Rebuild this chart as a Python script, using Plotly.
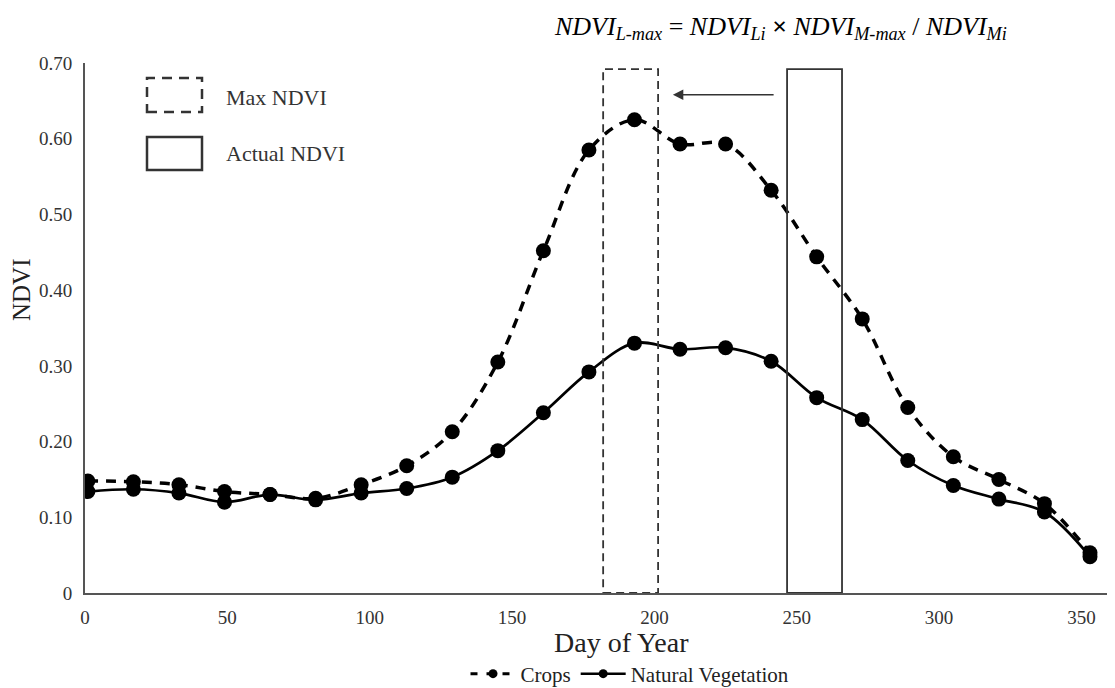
import plotly.graph_objects as go

days = [1, 17, 33, 49, 65, 81, 97, 113, 129, 145, 161, 177, 193, 209, 225, 241, 257, 273, 289, 305, 321, 337, 353]
crops = [0.148, 0.147, 0.143, 0.134, 0.130, 0.125, 0.143, 0.168, 0.213, 0.305, 0.452, 0.585, 0.625, 0.593,
         0.593, 0.532, 0.444, 0.362, 0.245, 0.180, 0.150, 0.118, 0.053]
natural = [0.134, 0.137, 0.132, 0.120, 0.130, 0.123, 0.132, 0.138, 0.153, 0.188, 0.238, 0.292, 0.330, 0.322,
           0.324, 0.306, 0.258, 0.229, 0.175, 0.142, 0.124, 0.107, 0.048]

x_ticks = [0, 50, 100, 150, 200, 250, 300, 350]
y_ticks = [0, 0.1, 0.2, 0.3, 0.4, 0.5, 0.6, 0.7]
y_tick_labels = ["0", "0.10", "0.20", "0.30", "0.40", "0.50", "0.60", "0.70"]

max_window = [182, 201.3]
actual_window = [246.6, 265.9]
window_top = 0.692
arrow_from, arrow_to, arrow_y = 242.4, 206.5, 0.658

FONT = "Liberation Serif"
# page body adds an 8px margin; plot area on screen: x 85..1115, y 63..593
OFF = 8
SX0, SX1, SY0, SY1 = 85, 1115, 63, 593
W, H = 1107, 680
L, T = SX0 - OFF, SY0 - OFF
PW, PH = SX1 - SX0, SY1 - SY0
R = W - L - PW
B = H - T - PH


def px(x):
    return (x - SX0) / PW


def py(y):
    return (SY1 - y) / PH


crops_line = dict(color="black", width=3.5, dash="10px,8px", shape="spline", smoothing=1.0)
nat_line = dict(color="black", width=2.7, shape="spline", smoothing=1.0)

fig = go.Figure()
fig.add_trace(go.Scatter(
    x=days, y=crops, name="Crops", mode="lines+markers", showlegend=False,
    line=crops_line, marker=dict(size=15, color="black"),
))
fig.add_trace(go.Scatter(
    x=days, y=natural, name="Natural Vegetation", mode="lines+markers", showlegend=False,
    line=nat_line, marker=dict(size=15, color="black"),
))
# legend-only entries (smaller symbols, as in the reference legend)
fig.add_trace(go.Scatter(
    x=[None], y=[None], name="Crops", mode="lines+markers",
    line=dict(color="black", width=3, dash="7px,9px"), marker=dict(size=9, color="black"),
))
fig.add_trace(go.Scatter(
    x=[None], y=[None], name="Natural Vegetation", mode="lines+markers",
    line=dict(color="black", width=2.5), marker=dict(size=9, color="black"),
))

shapes = [
    dict(type="rect", xref="x", yref="y", x0=max_window[0], x1=max_window[1], y0=0, y1=window_top,
         line=dict(color="#333", width=1.8, dash="8px,5px")),
    dict(type="rect", xref="x", yref="y", x0=actual_window[0], x1=actual_window[1], y0=0, y1=window_top,
         line=dict(color="#333", width=1.8)),
    dict(type="rect", xref="paper", yref="paper", x0=px(147), x1=px(202), y0=py(112), y1=py(78),
         line=dict(color="#333", width=2.5, dash="10px,7px")),
    dict(type="rect", xref="paper", yref="paper", x0=px(147), x1=px(202), y0=py(170), y1=py(137),
         line=dict(color="#333", width=2.5)),
]

annotations = [
    dict(x=arrow_to, y=arrow_y, ax=arrow_from, ay=arrow_y, xref="x", yref="y", axref="x", ayref="y",
         showarrow=True, arrowhead=2, arrowsize=1.3, arrowwidth=1.6, arrowcolor="#333", text=""),
    dict(x=px(224), y=py(97), xref="paper", yref="paper", xanchor="left", yanchor="middle",
         text="Max NDVI", showarrow=False, font=dict(family=FONT, size=22, color="#333")),
    dict(x=px(224), y=py(153), xref="paper", yref="paper", xanchor="left", yanchor="middle",
         text="Actual NDVI", showarrow=False, font=dict(family=FONT, size=22, color="#333")),
    dict(x=px(780), y=py(28), xref="paper", yref="paper", xanchor="center", yanchor="middle",
         text="<i>NDVI<sub>L-max</sub></i> = <i>NDVI<sub>Li</sub></i> <b>×</b> <i>NDVI<sub>M-max</sub></i> / <i>NDVI<sub>Mi</sub></i>",
         showarrow=False, font=dict(family=FONT, size=26, color="black")),
    dict(x=px(621), y=py(642), xref="paper", yref="paper", xanchor="center", yanchor="middle",
         text="Day of Year", showarrow=False, font=dict(family=FONT, size=28, color="#222")),
    dict(x=px(21), y=py(290), xref="paper", yref="paper", xanchor="center", yanchor="middle",
         text="NDVI", textangle=-90, showarrow=False, font=dict(family=FONT, size=25, color="#222")),
]

fig.update_layout(
    width=W, height=H,
    margin=dict(l=L, r=R, t=T, b=B, autoexpand=False),
    paper_bgcolor="white", plot_bgcolor="white",
    font=dict(family=FONT, size=18, color="#333"),
    showlegend=True,
    legend=dict(orientation="h", x=px(630), y=py(674), xanchor="center", yanchor="middle",
                font=dict(family=FONT, size=21, color="#222"), itemwidth=45, tracegroupgap=0,
                bgcolor="rgba(0,0,0,0)"),
    shapes=shapes,
    annotations=annotations,
)
fig.update_xaxes(range=[0, (SX1 - SX0) / 2.847], tickvals=x_ticks, showgrid=False, zeroline=False,
                 showline=True, linecolor="#555", linewidth=2, ticks="", ticklabelstandoff=6,
                 tickfont=dict(family=FONT, size=19, color="#333"))
fig.update_yaxes(range=[0, 0.70], tickvals=y_ticks, ticktext=y_tick_labels, showgrid=False, zeroline=False,
                 showline=True, linecolor="#555", linewidth=2, ticks="", ticklabelstandoff=7,
                 tickfont=dict(family=FONT, size=19, color="#333"))

fig.write_html("out.html")
